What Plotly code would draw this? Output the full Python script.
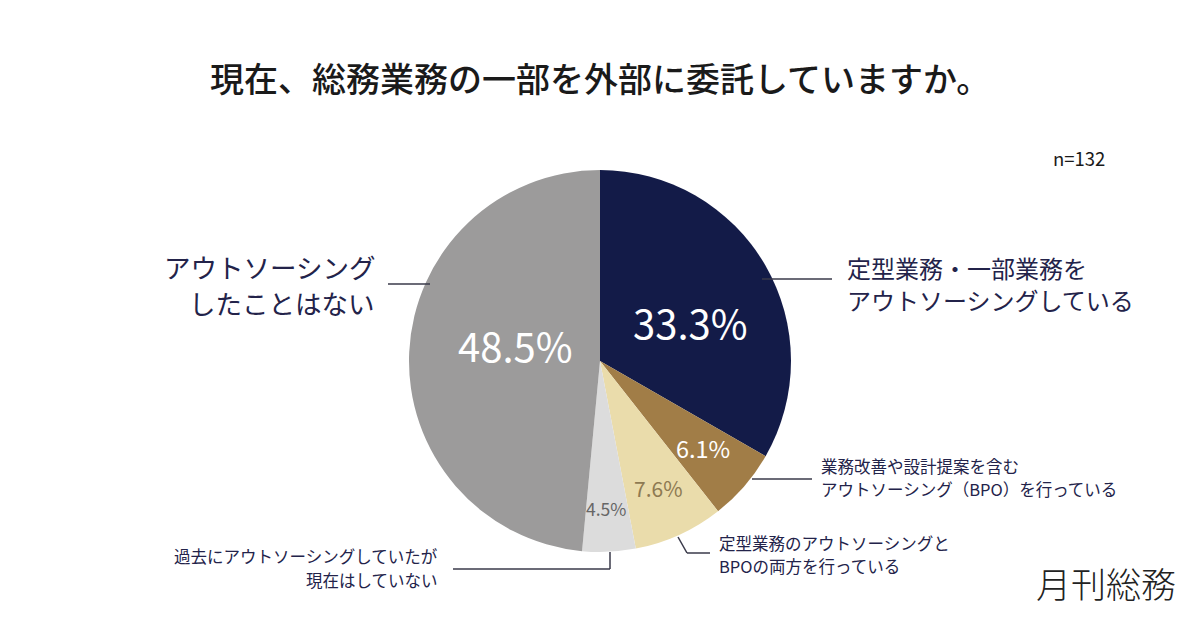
import plotly.graph_objects as go

W, H = 1200, 628

# ---- data ----
categories = [
    "定型業務・一部業務を<br>アウトソーシングしている",
    "業務改善や設計提案を含む<br>アウトソーシング（BPO）を行っている",
    "定型業務のアウトソーシングと<br>BPOの両方を行っている",
    "過去にアウトソーシングしていたが<br>現在はしていない",
    "アウトソーシング<br>したことはない",
]
values = [33.3, 6.1, 7.6, 4.5, 48.5]
colors = ["#131b48", "#a17d47", "#eadcab", "#dcdcdc", "#9c9b9b"]
title_text = "現在、総務業務の一部を外部に委託していますか。"
n_text = "n=132"
logo_text = "月刊総務"

FONT = "Noto Sans CJK JP"
LABEL_COLOR = "#23234a"


def px(x):
    return x / W


def py(y):
    return 1 - y / H


cx, cy, r = 600, 361, 191

fig = go.Figure(
    go.Pie(
        labels=categories,
        values=values,
        sort=False,
        direction="clockwise",
        rotation=0,
        marker=dict(colors=colors, line=dict(width=0)),
        textinfo="none",
        hoverinfo="label+percent",
        showlegend=False,
        domain=dict(x=[px(cx - r), px(cx + r)], y=[py(cy + r), py(cy - r)]),
    )
)

ann = []
# percentage labels inside slices
pct_style = [
    (690, 322, 40, "#ffffff"),
    (703, 448, 23.5, "#ffffff"),
    (658, 488, 21, "#8e7a52"),
    (606, 508, 17.5, "#666666"),
    (515, 345, 40, "#ffffff"),
]
for v, (x, y, s, c) in zip(values, pct_style):
    ann.append(dict(x=px(x), y=py(y), text=f"{v:.1f}%", showarrow=False,
                    xanchor="center", yanchor="middle",
                    font=dict(family=FONT, size=s, color=c)))

# category labels: (x, first-line y, line gap, size, align)
cat_style = [
    (846, 267, 32, 24, "left"),
    (820, 466, 23, 16.5, "left"),
    (718, 543, 23, 16.5, "left"),
    (439, 556, 24, 16.5, "right"),
    (376, 266, 36, 26.5, "right"),
]
for t, (x, y, gap, s, al) in zip(categories, cat_style):
    for i, line in enumerate(t.split("<br>")):
        ann.append(dict(x=px(x), y=py(y + i * gap), text=line, showarrow=False,
                        xanchor=al, yanchor="middle", align=al, borderpad=0,
                        font=dict(family=FONT, size=s, color=LABEL_COLOR)))

ann.append(dict(x=px(600), y=py(77), text=title_text, showarrow=False,
                xanchor="center", yanchor="middle",
                font=dict(family=FONT, size=34, color="#1a1a1a", weight=500)))
ann.append(dict(x=px(1051), y=py(158), text=n_text, showarrow=False,
                xanchor="left", yanchor="middle",
                font=dict(family=FONT, size=18.5, color="#1a1a1a")))
ann.append(dict(x=px(1106), y=py(582), text=logo_text, showarrow=False,
                xanchor="center", yanchor="middle",
                font=dict(family=FONT, size=35, color="#222222", weight=300)))

line_c = "#3a3a4a"
shapes = []


def seg(x0, y0, x1, y1):
    shapes.append(dict(type="line", xref="paper", yref="paper",
                       x0=px(x0), y0=py(y0), x1=px(x1), y1=py(y1),
                       line=dict(color=line_c, width=1.5)))


seg(388, 284, 430, 284)          # left label
seg(762, 279, 832, 279)          # top right label
seg(752, 479, 812, 479)          # 6.1%
seg(678, 537, 687, 553)          # 7.6% diagonal
seg(687, 553, 710, 553)
seg(610, 552, 610, 569)          # 4.5%
seg(610, 569, 453, 569)

fig.update_layout(
    width=W, height=H,
    margin=dict(l=0, r=0, t=0, b=0),
    paper_bgcolor="#ffffff",
    plot_bgcolor="#ffffff",
    annotations=ann,
    shapes=shapes,
)

fig.write_html("out.html")
